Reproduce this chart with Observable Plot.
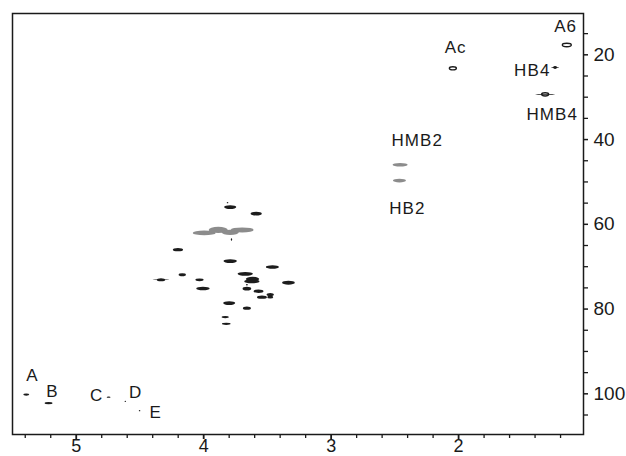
<!DOCTYPE html>
<html><head><meta charset="utf-8">
<script src="https://cdn.jsdelivr.net/npm/d3@7"></script>
<script src="https://cdn.jsdelivr.net/npm/@observablehq/plot@0.6"></script>
<style>
body{margin:0;background:#fff}
g[aria-label="text"] text{letter-spacing:1.1px}
</style>
</head><body><div id="chart"></div>
<script>
// Filled cross peaks: 1H shift (ppm), 13C shift (ppm), extent in 1H, extent in 13C, phase
const peakH = [3.809,3.788,3.584,3.778,4.198,3.788,3.456,3.500,3.670,4.164,3.613,3.618,4.331,4.331,4.029,3.331,3.657,4.002,3.657,3.566,3.474,3.539,3.474,3.796,3.657,3.827,3.819,5.388,5.213,4.742,4.611,4.499,1.239,1.239,1.317,2.455,2.460,3.992,3.882,3.788,3.694];
const peakC = [55.0,56.06,57.6,63.7,66.1,68.8,70.2,70.2,71.8,72.0,73.0,73.6,73.2,73.2,73.2,73.9,74.4,75.25,75.3,75.9,76.7,77.3,77.3,78.7,79.9,82.0,83.6,100.3,102.3,100.9,101.9,104.1,23.1,23.1,29.45,46.05,49.8,62.15,61.44,62.0,61.44];
const peakW = [0.012,0.095,0.088,0.010,0.080,0.105,0.100,0.015,0.120,0.057,0.105,0.120,0.065,0.130,0.065,0.100,0.015,0.105,0.068,0.078,0.057,0.078,0.047,0.094,0.063,0.057,0.068,0.047,0.063,0.030,0.012,0.012,0.030,0.060,0.157,0.118,0.102,0.180,0.150,0.135,0.180];
const peakD = [0.30,0.85,0.85,0.60,0.80,0.85,0.85,0.35,0.90,0.70,1.00,0.90,0.75,0.22,0.65,0.90,0.35,0.85,0.85,0.80,0.80,0.80,0.70,0.90,0.80,0.55,0.50,0.55,0.55,0.30,0.30,0.30,0.70,0.20,0.22,0.85,0.85,1.10,1.45,1.25,1.20];
const peakPhase = ["pos","pos","pos","pos","pos","pos","pos","pos","pos","pos","pos","pos","pos","pos","pos","pos","pos","pos","pos","pos","pos","pos","pos","pos","pos","pos","pos","pos","pos","pos","pos","pos","pos","pos","pos","neg","neg","neg","neg","neg","neg"];

// Weak peaks drawn as single outer contour
const ringH = [2.041,1.147,1.317];
const ringC = [23.3,17.8,29.45];
const ringW = [0.055,0.070,0.055];
const ringD = [0.75,0.80,0.75];

// Assignment labels
const labelText = ["A6","Ac","HB4","HMB4","HMB2","HB2","A","B","C","D","E"];
const labelH = [1.160,2.023,1.422,1.265,2.324,2.402,5.343,5.186,4.839,4.533,4.376];
const labelC = [13.4,18.3,23.6,34.1,40.3,56.25,95.8,99.5,100.5,99.7,104.5];

// Axis ticks
const xMajor = [5,4,3,2];
const xMinor = [5.4,5.2,4.8,4.6,4.4,4.2,3.8,3.6,3.4,3.2,2.8,2.6,2.4,2.2,1.8,1.6,1.4,1.2];
const yMajor = [20,40,60,80,100];
const yMinor = [15,25,30,35,45,50,55,65,70,75,85,90,95,105];

const peaks = peakH.map((h,i)=>({h, c:peakC[i], w:peakW[i], d:peakD[i], phase:peakPhase[i]}));
const rings = ringH.map((h,i)=>({h, c:ringC[i], w:ringW[i], d:ringD[i]}));
const labels = labelText.map((t,i)=>({t, h:labelH[i], c:labelC[i]}));

const chart = Plot.plot({
  width: 626, height: 456,
  marginLeft: 12, marginRight: 43, marginTop: 13, marginBottom: 22,
  style: {fontFamily: "'Liberation Sans', Arial, sans-serif", fontSize: "19px", background: "#fff", color: "#1a1a1a"},
  x: {domain: [5.5, 1.02]},
  y: {domain: [10.25, 109.6], reverse: true},
  color: {domain: ["pos","neg"], range: ["#1c1c1c","#8c8c8c"]},
  marks: [
    Plot.rect(peaks, {x1: d=>d.h + d.w/2, x2: d=>d.h - d.w/2, y1: d=>d.c - d.d/2, y2: d=>d.c + d.d/2, fill: "phase", rx: 100, ry: 100}),
    Plot.rect(rings, {x1: d=>d.h + d.w/2, x2: d=>d.h - d.w/2, y1: d=>d.c - d.d/2, y2: d=>d.c + d.d/2, fill: "none", stroke: "#1c1c1c", strokeWidth: 1.4, rx: 100, ry: 100}),
    Plot.text(labels, {x: "h", y: "c", text: "t", fontSize: 17, fill: "#1a1a1a"}),
    Plot.axisX(xMajor, {anchor: "bottom", tickSize: 5, tickPadding: 0, strokeWidth: 1.8, fontSize: 18, tickFormat: d => String(d), label: null}),
    Plot.axisX(xMinor, {anchor: "bottom", tickSize: 4, strokeWidth: 1.3, tickFormat: () => "", label: null}),
    Plot.axisY(yMajor, {anchor: "right", tickSize: 4, tickPadding: 6, strokeWidth: 1.5, fontSize: 19, tickFormat: d => String(d), label: null}),
    Plot.axisY(yMinor, {anchor: "right", tickSize: 4, strokeWidth: 1.3, tickFormat: () => "", label: null}),
    Plot.frame({stroke: "#1a1a1a", strokeWidth: 1.5})
  ]
});
document.getElementById("chart").appendChild(chart);
</script>
</body></html>
